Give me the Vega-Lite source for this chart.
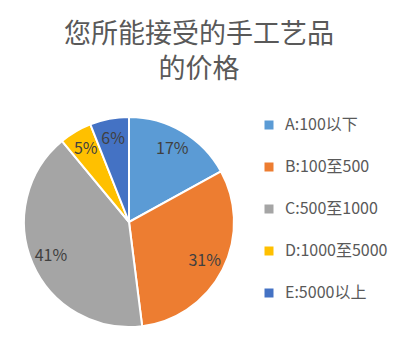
{
  "$schema": "https://vega.github.io/schema/vega-lite/v6.json",
  "autosize": {"type": "none"},
  "width": 210,
  "height": 210,
  "padding": {"left": 24, "top": 117, "right": 165, "bottom": 32},
  "background": "#ffffff",
  "title": {
    "text": ["您所能接受的手工艺品", "的价格"],
    "font": "Noto Sans CJK SC",
    "fontSize": 27,
    "fontWeight": "normal",
    "color": "#595959",
    "lineHeight": 35,
    "anchor": "middle",
    "frame": "group",
    "dx": 70,
    "offset": 29
  },
  "data": {
    "values": [
      {"idx": 1, "cat": "A:100以下", "share": 0.17},
      {"idx": 2, "cat": "B:100至500", "share": 0.31},
      {"idx": 3, "cat": "C:500至1000", "share": 0.41},
      {"idx": 4, "cat": "D:1000至5000", "share": 0.05},
      {"idx": 5, "cat": "E:5000以上", "share": 0.06}
    ]
  },
  "encoding": {
    "theta": {"field": "share", "type": "quantitative", "stack": true},
    "order": {"field": "idx", "type": "quantitative"}
  },
  "layer": [
    {
      "mark": {"type": "arc", "stroke": "#ffffff", "strokeWidth": 2, "radius": 105},
      "encoding": {
        "color": {
          "field": "cat",
          "type": "nominal",
          "sort": ["A:100以下", "B:100至500", "C:500至1000", "D:1000至5000", "E:5000以上"],
          "scale": {
            "domain": ["A:100以下", "B:100至500", "C:500至1000", "D:1000至5000", "E:5000以上"],
            "range": ["#5B9BD5", "#ED7D31", "#A5A5A5", "#FFC000", "#4472C4"]
          },
          "legend": {
            "title": null,
            "orient": "right",
            "offset": 27,
            "symbolType": "square",
            "symbolSize": 81,
            "symbolStrokeWidth": 0,
            "labelFont": "Noto Sans CJK SC",
            "labelFontSize": 16,
            "labelColor": "#595959",
            "labelOffset": 8,
            "rowPadding": 26,
            "padding": 0
          }
        }
      }
    },
    {
      "mark": {"type": "text", "radius": 85, "font": "Noto Sans CJK SC", "fontSize": 16, "color": "#404040"},
      "encoding": {
        "text": {"field": "share", "type": "quantitative", "format": ".0%"}
      }
    }
  ],
  "config": {"view": {"stroke": null}}
}
